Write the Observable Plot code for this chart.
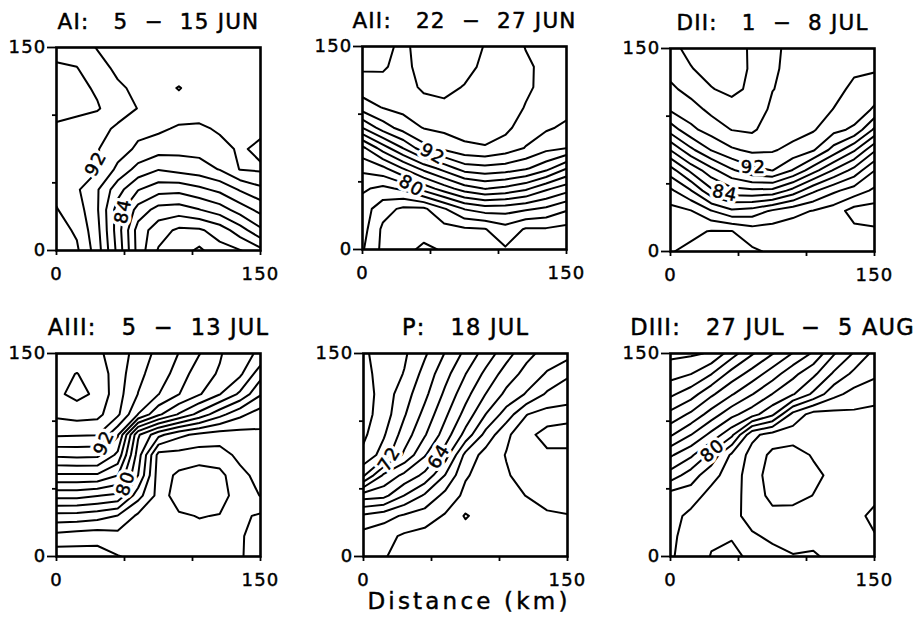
<!DOCTYPE html>
<html>
<head>
<meta charset="utf-8">
<script src="https://cdn.jsdelivr.net/npm/d3@7"></script>
<script src="https://cdn.jsdelivr.net/npm/@observablehq/plot@0.6"></script>
<style>
  html, body { margin: 0; padding: 0; background: #fff; overflow: hidden; }
  #chart { position: relative; width: 923px; height: 626px; font-family: "DejaVu Sans", sans-serif; }
  #chart svg { position: absolute; }
  #chart g[aria-label="x-axis tick label"] text,
  #chart g[aria-label="y-axis tick label"] text { stroke: #000; stroke-width: 0.45px; }
  #xtitle { position: absolute; left: 0; width: 938px; top: 588px; text-align: center;
            font-size: 23px; letter-spacing: 3.2px; color: #000;
            -webkit-text-stroke: 0.45px #000; }
</style>
</head>
<body>
<div id="chart"><div id="xtitle">Distance (km)</div></div>
<script>
// Each field is sampled on an 11 x 11 grid, one point every 15 km (0..150 km).
// Rows run from the northern edge (150 km) down to the southern edge (0 km),
// columns from west (0 km) to east (150 km).

const titles = ["AI:   5  −  15 JUN", "AII:   22  −  27 JUN", "DII:   1  −  8 JUL",
                "AIII:   5  −  13 JUL", "P:   18 JUL", "DIII:   27 JUL  −  5 AUG"];

const axisTicks = [0, 50, 100, 150];
const labeledTicks = [0, 150];
const contourLevels = d3.range(40, 101, 2);

const gridAI = [
  93.2, 93.0, 91.9, 91.3, 91.1, 91.0, 91.0, 91.0, 91.0, 91.0, 91.0,
  94.3, 94.05, 92.7, 91.6, 91.3, 91.1, 91.0, 91.0, 91.0, 91.0, 91.0,
  94.8, 94.6, 93.7, 92.3, 91.6, 91.3, 92.1, 91.2, 91.0, 91.0, 91.0,
  94.6, 94.4, 94.2, 92.8, 91.95, 91.4, 91.2, 91.1, 91.0, 91.0, 91.0,
  93.7, 93.4, 92.6, 91.7, 90.6, 90.4, 89.7, 89.6, 90.3, 90.6, 90.5,
  93.4, 93.0, 92.1, 91.0, 89.6, 88.8, 88.6, 88.7, 89.3, 90.3, 89.5,
  93.3, 92.7, 92.2, 89.5, 87.3, 86.1, 86.7, 87.1, 88.1, 90.1, 90.3,
  93.5, 92.3, 90.2, 86.8, 84.1, 82.8, 82.6, 83.5, 84.5, 86.2, 87.5,
  94.1, 93.0, 90.2, 85.1, 81.2, 79.2, 79.0, 79.9, 81.0, 82.9, 84.6,
  94.8, 93.7, 90.6, 85.0, 79.1, 76.9, 75.6, 75.7, 76.9, 79.1, 81.6,
  95.2, 94.3, 91.0, 85.4, 79.2, 75.8, 74.9, 73.6, 75.3, 75.9, 77.4
];

const gridAII = [
  98.6, 98.6, 97.5, 99.0, 99.2, 99.0, 97.9, 97.4, 95.9, 95.3, 95.1,
  98.3, 98.2, 97.4, 98.8, 99.0, 98.6, 97.6, 97.3, 96.4, 95.4, 95.1,
  97.0, 97.4, 97.3, 98.3, 98.5, 97.9, 97.3, 97.2, 96.3, 95.5, 95.0,
  95.0, 96.1, 96.6, 97.3, 97.6, 97.2, 97.0, 96.9, 95.9, 95.3, 94.7,
  90.05, 93.0, 94.9, 96.1, 96.5, 96.8, 96.6, 96.5, 95.0, 94.3, 93.6,
  83.5, 87.0, 90.1, 93.3, 94.6, 95.6, 95.9, 95.1, 93.9, 92.6, 92.05,
  80.5, 81.5, 84.1, 86.7, 88.8, 91.0, 91.4, 91.1, 90.3, 88.7, 86.1,
  78.3, 77.5, 78.4, 80.8, 83.0, 85.0, 86.1, 85.5, 84.4, 82.4, 80.9,
  77.0, 74.8, 73.6, 73.6, 75.8, 78.1, 79.0, 78.9, 78.3, 77.6, 76.3,
  76.8, 73.6, 72.8, 72.8, 73.3, 73.7, 73.9, 75.2, 73.8, 73.8, 73.4,
  76.2, 73.5, 72.6, 71.6, 72.2, 72.9, 73.0, 73.8, 73.0, 73.3, 73.2
];

const gridDII = [
  97.5, 98.5, 99.0, 99.2, 97.6, 96.3, 95.6, 95.3, 95.0, 94.7, 94.6,
  96.7, 97.9, 98.7, 99.0, 97.7, 96.2, 95.6, 95.3, 94.9, 94.3, 94.2,
  95.6, 96.7, 97.9, 98.5, 97.6, 96.05, 95.5, 95.2, 94.6, 93.6, 93.1,
  94.3, 95.2, 96.5, 97.2, 97.2, 95.6, 95.3, 94.9, 93.95, 93.3, 91.7,
  90.9, 93.5, 94.9, 96.05, 96.3, 95.0, 94.8, 94.2, 92.6, 91.6, 87.6,
  86.05, 89.5, 92.1, 93.7, 94.4, 94.2, 93.4, 92.2, 89.2, 86.3, 82.3,
  81.1, 84.5, 87.3, 89.7, 91.4, 92.05, 89.9, 86.8, 83.8, 81.3, 78.05,
  77.6, 79.9, 83.6, 85.3, 85.6, 85.5, 83.3, 80.4, 78.4, 77.1, 75.6,
  75.3, 75.9, 77.9, 79.6, 79.2, 77.7, 76.6, 75.9, 75.0, 73.2, 73.0,
  75.0, 74.4, 73.9, 73.95, 75.0, 75.0, 74.9, 75.1, 74.8, 74.5, 74.3,
  74.1, 73.6, 73.4, 73.3, 73.7, 74.3, 74.4, 74.5, 74.6, 74.6, 74.6
];

const gridAIII = [
  96.8, 96.9, 96.3, 95.3, 93.0, 91.5, 89.95, 88.1, 86.2, 84.6, 83.7,
  97.5, 98.05, 97.2, 95.0, 92.5, 91.0, 89.2, 86.8, 85.8, 84.4, 80.8,
  97.6, 98.6, 97.6, 94.8, 91.95, 90.05, 88.05, 86.2, 84.1, 81.6, 78.2,
  96.4, 96.8, 96.6, 94.4, 89.95, 86.4, 83.8, 81.3, 78.7, 76.5, 75.0,
  94.3, 94.2, 94.1, 90.3, 80.3, 76.6, 74.5, 73.5, 73.0, 73.2, 73.6,
  90.4, 90.6, 90.5, 87.5, 79.0, 71.3, 71.3, 71.0, 71.2, 72.5, 73.0,
  85.7, 85.7, 85.7, 84.05, 78.0, 71.0, 69.6, 69.0, 69.4, 71.5, 72.6,
  80.7, 80.7, 80.1, 79.6, 74.8, 71.3, 68.8, 68.3, 69.0, 71.2, 72.05,
  75.3, 75.2, 74.8, 73.9, 71.6, 71.0, 70.3, 69.9, 70.1, 70.4, 69.7,
  71.3, 71.0, 70.8, 71.3, 70.8, 71.0, 70.8, 70.7, 70.8, 70.2, 69.2,
  68.8, 69.0, 69.1, 69.9, 70.5, 71.0, 71.0, 70.9, 71.0, 70.2, 69.0
];

const gridP = [
  76.3, 75.2, 74.3, 72.3, 69.9, 67.5, 65.1, 62.8, 60.6, 59.2, 58.8,
  76.6, 75.2, 73.9, 71.3, 68.7, 66.05, 63.5, 61.1, 59.3, 57.8, 56.2,
  77.0, 75.1, 72.9, 70.5, 67.6, 64.7, 61.95, 59.5, 57.8, 55.7, 55.3,
  76.8, 75.0, 72.2, 69.4, 66.4, 63.3, 59.95, 57.1, 54.05, 53.2, 52.8,
  76.4, 74.2, 71.1, 68.2, 65.1, 61.3, 57.3, 54.4, 52.6, 51.2, 51.0,
  75.5, 73.1, 69.6, 66.2, 63.0, 57.4, 55.2, 53.9, 53.2, 52.4, 52.5,
  72.3, 67.6, 65.5, 63.5, 59.95, 56.2, 55.2, 54.2, 53.2, 53.1, 53.3,
  65.0, 64.6, 61.95, 59.7, 57.4, 55.5, 55.0, 54.6, 53.95, 53.2, 53.0,
  59.6, 58.8, 57.7, 57.0, 55.8, 53.8, 55.0, 55.0, 55.0, 54.3, 54.1,
  57.2, 56.6, 55.7, 55.3, 55.0, 55.0, 55.2, 55.3, 55.3, 55.1, 54.9,
  56.8, 56.1, 55.5, 55.2, 55.1, 55.1, 55.3, 55.5, 55.4, 55.2, 55.0
];

const gridDIII = [
  98.5, 98.3, 97.8, 94.9, 92.2, 90.1, 87.9, 85.7, 82.2, 79.8, 77.4,
  96.8, 96.05, 94.1, 91.2, 89.2, 87.0, 84.6, 82.5, 79.7, 77.5, 76.5,
  94.4, 92.9, 90.4, 88.2, 86.1, 83.95, 82.2, 79.6, 76.6, 75.3, 74.4,
  91.4, 89.6, 87.1, 84.6, 82.8, 80.4, 75.3, 73.2, 73.4, 73.6, 73.7,
  88.3, 86.05, 83.4, 80.5, 74.5, 73.2, 73.0, 73.0, 73.1, 73.4, 73.5,
  84.3, 82.4, 79.4, 75.6, 73.3, 71.5, 71.1, 72.2, 72.8, 73.2, 73.3,
  81.1, 79.0, 76.7, 75.0, 73.0, 71.0, 70.5, 71.5, 72.5, 73.0, 73.0,
  77.1, 76.9, 75.3, 74.8, 73.1, 71.4, 71.2, 72.05, 72.7, 72.8, 72.4,
  76.7, 75.5, 74.6, 74.5, 73.4, 72.6, 72.9, 73.0, 73.0, 72.5, 71.6,
  76.4, 75.2, 74.3, 74.2, 74.2, 73.7, 73.3, 73.5, 73.3, 72.9, 72.1,
  76.2, 75.2, 73.9, 73.3, 74.6, 74.5, 74.1, 74.2, 73.6, 73.5, 73.0
];

// Contour labels: value, anchor position (km) and reading angle
const labelsAI   = [{x: 29, y: 64, text: "92", rotate: -62}, {x: 49, y: 29, text: "84", rotate: -78}];
const labelsAII  = [{x: 51.5, y: 70.5, text: "92", rotate: 28}, {x: 36, y: 47, text: "80", rotate: 30}];
const labelsDII  = [{x: 61, y: 62, text: "92", rotate: 0}, {x: 40, y: 43, text: "84", rotate: 12}];
const labelsAIII = [{x: 35, y: 84, text: "92", rotate: -65}, {x: 51, y: 54, text: "80", rotate: -72}];
const labelsP    = [{x: 19, y: 72, text: "72", rotate: -58}, {x: 55.5, y: 74, text: "64", rotate: -58}];
const labelsDIII = [{x: 31, y: 78, text: "80", rotate: -40}];

const grids = [gridAI, gridAII, gridDII, gridAIII, gridP, gridDIII];
const labelSets = [labelsAI, labelsAII, labelsDII, labelsAIII, labelsP, labelsDIII];

// Page placement of each panel's frame (pixels) and title size per row
const frames = [
  {left: 56, top: 46.5, titleSize: 21.5},
  {left: 362, top: 46, titleSize: 21.5},
  {left: 670, top: 48, titleSize: 21.5},
  {left: 56, top: 353, titleSize: 22.5},
  {left: 363, top: 353, titleSize: 22.5},
  {left: 670, top: 353, titleSize: 22.5}
];

const frameW = 204, frameH = 203;
const M = {top: 44, right: 48, bottom: 36, left: 50};
const half = 7.5; // half of the 15 km sample spacing
const chart = document.getElementById("chart");

grids.forEach((grid, i) => {
  const f = frames[i];
  const labelOptions = {x: "x", y: "y", text: "text", rotate: "rotate", fontSize: 18};
  const svg = Plot.plot({
    width: frameW + M.left + M.right,
    height: frameH + M.top + M.bottom,
    marginTop: M.top, marginRight: M.right, marginBottom: M.bottom, marginLeft: M.left,
    x: {domain: [0, 150]},
    y: {domain: [0, 150]},
    style: {
      fontFamily: "DejaVu Sans, sans-serif",
      fontSize: "18px",
      letterSpacing: "1.2px",
      color: "black",
      background: "transparent",
      overflow: "visible"
    },
    marks: [
      Plot.contour(grid, {
        width: 11, height: 11,
        x1: -half, x2: 150 + half, y1: 150 + half, y2: -half,
        value: (d) => d,
        thresholds: contourLevels,
        fill: "none", stroke: "black", strokeWidth: 2,
        strokeLinejoin: "round", clip: true
      }),
      // white halo that breaks the contour line under each label, then the label itself
      Plot.text(labelSets[i], {...labelOptions, fill: "white", stroke: "white", strokeWidth: 7}),
      Plot.text(labelSets[i], {...labelOptions, fill: "black", stroke: "black", strokeWidth: 0.5}),
      Plot.frame({stroke: "black", strokeWidth: 2.6}),
      Plot.axisX({ticks: axisTicks, tickSize: 5, tickPadding: 12, strokeWidth: 1.8,
                  tickFormat: (d) => labeledTicks.includes(d) ? String(d) : "", label: null}),
      Plot.axisY({ticks: [50, 100], tickSize: 4, strokeWidth: 1.8, tickFormat: () => "", label: null}),
      Plot.axisY({ticks: labeledTicks, tickSize: 9, tickPadding: 1, strokeWidth: 1.8, label: null}),
      Plot.text([titles[i].replace(/ /g, "\u00A0")], {
        text: (d) => d, frameAnchor: "top", dy: -18.5, lineAnchor: "bottom",
        fontSize: f.titleSize, fill: "black", stroke: "black", strokeWidth: 0.5
      })
    ]
  });
  svg.style.left = (f.left - M.left) + "px";
  svg.style.top = (f.top - M.top) + "px";
  chart.appendChild(svg);
});
</script>
</body>
</html>
